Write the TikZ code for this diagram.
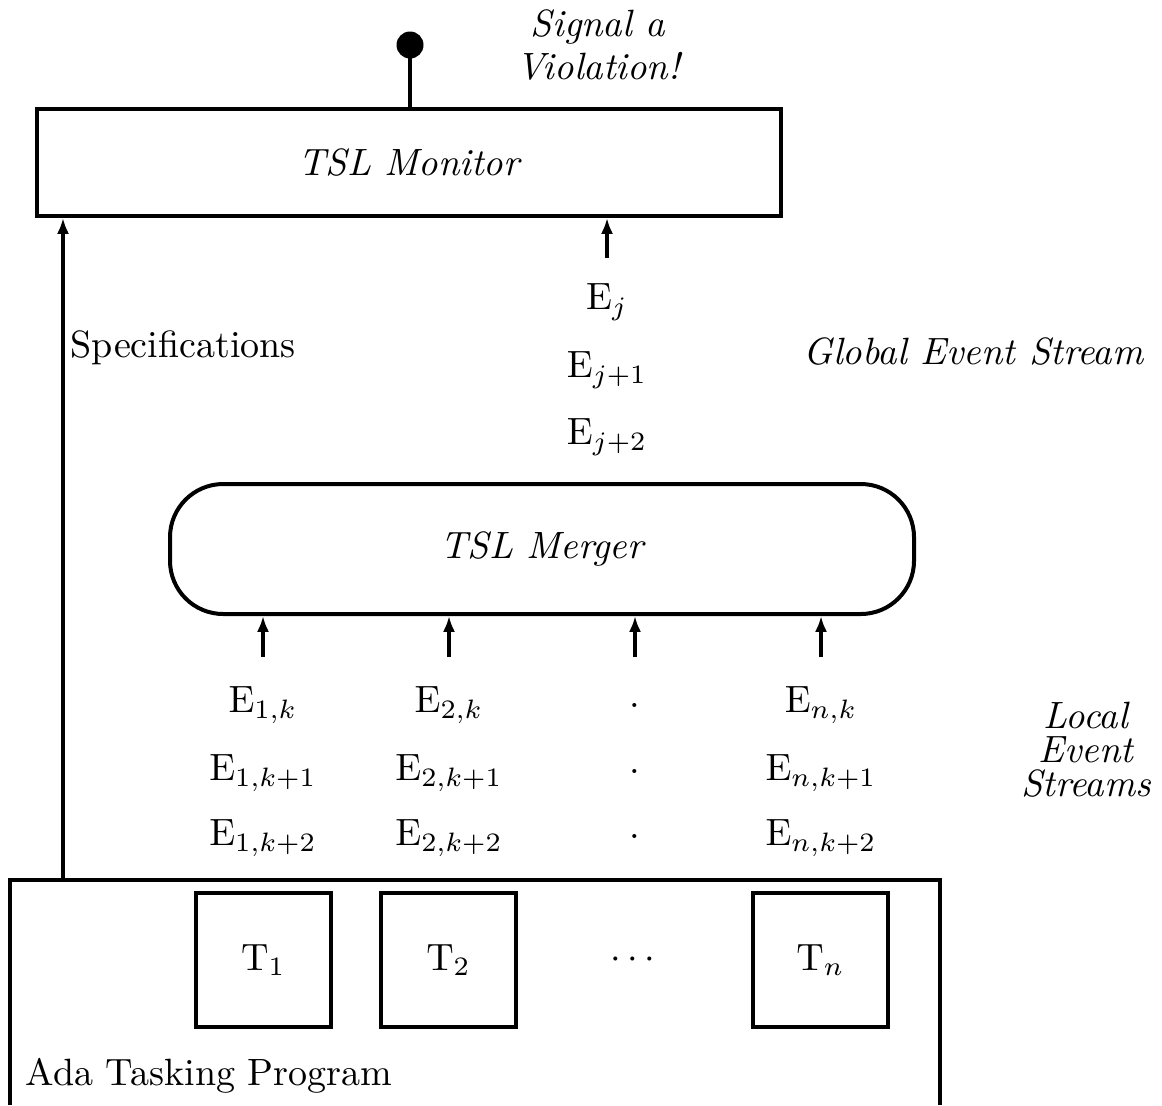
\documentclass[tikz,border=0pt]{standalone}
\usetikzlibrary{arrows.meta}
\begin{document}
\begin{tikzpicture}[x=0.263pt,y=-0.263pt,
  box/.style={draw,line width=1.05pt},
  arr/.style={line width=1.05pt,-{Latex[length=4.2pt,width=3.2pt]}},
  lbl/.style={inner sep=0pt,font=\fontsize{10}{12}\selectfont},
  ilbl/.style={lbl,font=\itshape\fontsize{10}{12}\selectfont},
  task/.style={box,minimum width=135*0.263pt,minimum height=134*0.263pt,inner sep=0pt,font=\fontsize{10}{12}\selectfont}]
\useasboundingbox (0,0) rectangle (1162,1105);

% monitor and its violation signal
\node[box,minimum width=744*0.263pt,minimum height=107*0.263pt,inner sep=0pt,font=\itshape\fontsize{10}{12}\selectfont] (monitor) at (409,162.5) {TSL Monitor};
\node[circle,fill=black,inner sep=0pt,minimum size=27*0.263pt] (dot) at (410,45) {};
\draw[line width=1.05pt] (dot.center) -- (dot.center |- monitor.north);
\node[ilbl,align=center,font=\itshape\fontsize{10}{11.3}\selectfont] (signal) at (598,45) {Signal a\\Violation!};

% global event stream
\coordinate (gfoot) at (607,258);
\draw[arr] (gfoot) -- (gfoot |- monitor.south);
\node[lbl] (ej) at (607,302) {$\mathrm{E}_j$};
\node[lbl] (ej1) at (607,370) {$\mathrm{E}_{j+1}$};
\node[lbl] (ej2) at (607,437) {$\mathrm{E}_{j+2}$};
\node[ilbl,anchor=west] (global) at (803,352) {Global Event Stream};

% merger
\node[box,rounded corners=14pt,minimum width=744*0.263pt,minimum height=130*0.263pt,inner sep=0pt,font=\itshape\fontsize{10}{12}\selectfont] (merger) at (542,549) {TSL Merger};

% local event streams
\foreach \i/\x in {1/263,2/449,3/635,4/821}{
  \coordinate (foot\i) at (\x,657);
  \draw[arr] (foot\i) -- (foot\i |- merger.south);
}
\foreach \i/\x/\s in {1/263/1,2/449/2,4/821/n}{
  \node[lbl] (e\i a) at (\x,705) {$\mathrm{E}_{\s,k}$};
  \node[lbl] (e\i b) at (\x,773) {$\mathrm{E}_{\s,k+1}$};
  \node[lbl] (e\i c) at (\x,838) {$\mathrm{E}_{\s,k+2}$};
}
\node[lbl] (e3a) at (635,705) {.};
\node[lbl] (e3b) at (635,771) {.};
\node[lbl] (e3c) at (635,836) {.};
\node[ilbl,align=center,font=\itshape\fontsize{10}{8.9}\selectfont] (local) at (1086,750) {Local\\Event\\Streams};

% the tasking program
\draw[line width=1.05pt] (10,1105) -- (10,880) coordinate (adatl) -- (940,880) -- (940,1105);
\coordinate (specfoot) at (63,880);
\draw[arr] (specfoot) -- (specfoot |- monitor.south);
\node[lbl,anchor=west] (spec) at (70,348) {Specifications};
\node[task] (t1) at (263.5,960) {$\mathrm{T}_1$};
\node[task] (t2) at (448.5,960) {$\mathrm{T}_2$};
\node[lbl] (tdots) at (633,960) {$\cdots$};
\node[task] (tn) at (820.5,960) {$\mathrm{T}_n$};
\node[lbl,anchor=west] (ada) at (25,1076) {Ada Tasking Program};
\end{tikzpicture}
\end{document}
